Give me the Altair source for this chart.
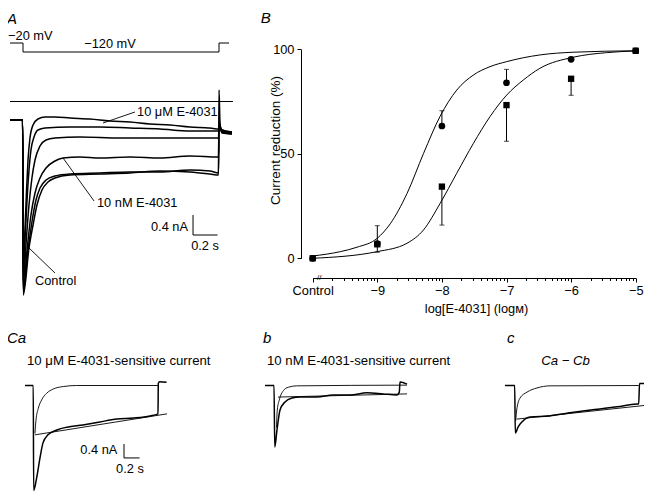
import altair as alt
import pandas as pd

FONT = "Liberation Sans"
FS = 12.8
W, H = 636, 485

# ================= Panel A : voltage protocol (s, mV) =================
A_VOLT_T = [-0.106, 0.0, 0.0, 1.6, 1.6, 1.682]
A_VOLT_MV = [-20, -20, -120, -120, -20, -20]

# ================= Panel A : current traces (s, nA) =================
A_T1_T = [-0.106, -0.003, 0.002, 0.016, 0.029, 0.041, 0.057, 0.082, 0.122, 0.180, 0.261, 0.384,
          0.547, 0.710, 0.873, 1.037, 1.200, 1.363, 1.527, 1.596, 1.600, 1.624, 1.706]
A_T1_I = [-0.37, -0.37, -3.37, -2.57, -1.77, -1.17, -0.73, -0.47, -0.35, -0.31, -0.31, -0.33,
          -0.35, -0.39, -0.41, -0.45, -0.47, -0.51, -0.53, -0.55, -0.47, -0.57, -0.61]
A_T2_T = [-0.106, -0.003, 0.002, 0.016, 0.033, 0.049, 0.065, 0.090, 0.122, 0.180, 0.384, 0.629,
          0.873, 1.118, 1.363, 1.596, 1.600, 1.624, 1.706]
A_T2_I = [-0.37, -0.37, -3.57, -2.77, -1.97, -1.37, -0.97, -0.71, -0.57, -0.53, -0.51, -0.51,
          -0.53, -0.55, -0.59, -0.59, -0.49, -0.59, -0.63]
A_T3_T = [-0.106, -0.003, 0.002, 0.024, 0.049, 0.073, 0.098, 0.139, 0.188, 0.261, 0.465, 0.792,
          1.118, 1.596, 1.600, 1.624, 1.706]
A_T3_I = [-0.37, -0.37, -3.67, -2.87, -2.07, -1.53, -1.17, -0.89, -0.77, -0.73, -0.71, -0.73,
          -0.73, -0.73, -0.51, -0.61, -0.65]
A_T4_T = [-0.106, -0.003, 0.002, 0.033, 0.065, 0.098, 0.139, 0.188, 0.261, 0.327, 0.465, 0.629,
          0.873, 1.118, 1.363, 1.596, 1.600, 1.624, 1.706]
A_T4_I = [-0.37, -0.37, -3.77, -2.97, -2.27, -1.83, -1.53, -1.33, -1.19, -1.13, -1.11, -1.13,
          -1.11, -1.13, -1.09, -1.11, -0.49, -0.59, -0.63]
A_T5_T = [-0.106, -0.003, 0.002, 0.041, 0.073, 0.106, 0.139, 0.188, 0.261, 0.384, 0.629, 0.873,
          1.118, 1.363, 1.527, 1.596, 1.600, 1.624, 1.706]
A_T5_I = [-0.37, -0.37, -3.81, -2.97, -2.41, -1.97, -1.73, -1.57, -1.49, -1.45, -1.43, -1.41,
          -1.41, -1.37, -1.39, -1.43, -0.47, -0.57, -0.61]
A_T6_T = [-0.106, -0.003, 0.002, 0.049, 0.082, 0.114, 0.155, 0.204, 0.261, 0.384, 0.629, 0.873,
          1.118, 1.363, 1.527, 1.596, 1.600, 1.608, 1.624, 1.706]
A_T6_I = [-0.37, -0.37, -3.87, -2.93, -2.47, -2.07, -1.77, -1.61, -1.53, -1.47, -1.45, -1.43,
          -1.39, -1.41, -1.45, -1.47, 0.23, -0.41, -0.63, -0.65]
A_ZERO_T = [-0.106, 1.714]

A_LABEL_TEXT = ["10 μM E-4031", "10 nM E-4031", "Control"]
A_LABEL_T = [0.931, 0.604, 0.098]
A_LABEL_I = [-0.21, -2.03, -3.59]
A_LEADER_T1 = [0.653, 0.327, 0.049]
A_LEADER_I1 = [-0.43, -1.13, -2.93]
A_LEADER_T2 = [0.914, 0.580, 0.261]
A_LEADER_I2 = [-0.21, -1.99, -3.43]
A_BAR_T = [1.388, 1.588]
A_BAR_I = [-2.27, -2.67]

# ================= Panel B : concentration-response =================
B_CONC = [-10, -9, -8, -7, -6, -5]
B_CIRCLE = [0.0, 7.0, 63.3, 84.0, 95.2, 99.3]
B_SQUARE = [0.0, 6.7, 34.3, 73.3, 85.9, 99.3]
B_CIRC_ERR_X = [-9, -8, -7]
B_CIRC_ERR_HI = [15.6, 70.6, 90.4]
B_SQ_ERR_X = [-9, -8, -7, -6]
B_SQ_ERR_LO = [2.9, 15.9, 56.0, 78.0]
B_FIT1_X = [-10, -9.571, -9.314, -9.0, -8.80, -8.54, -8.284, -8.027, -7.770, -7.512, -7.255,
            -6.997, -6.483, -5.968, -5.005]
B_FIT1_Y = [1.1, 3.2, 5.3, 9.6, 16.5, 31.0, 50.2, 68.0, 80.5, 87.7, 91.7, 94.1, 97.3, 98.6, 99.3]
B_FIT2_X = [-10, -9.0, -8.54, -8.284, -8.027, -7.770, -7.512, -7.255, -6.997, -6.740, -6.483,
            -5.968, -5.453, -5.005]
B_FIT2_Y = [0.0, 3.2, 7.2, 13.6, 26.3, 40.7, 55.0, 67.8, 78.1, 85.3, 90.9, 96.2, 98.4, 99.2]
B_MAJOR = [-10, -9, -8, -7, -6, -5]
B_MINOR_OFFSETS = [0.301, 0.477, 0.602, 0.699, 0.778, 0.845, 0.903, 0.954]

# ================= Panel C : sensitive currents (s, nA) =================
CA_T = [-0.109, -0.003, 0.002, 0.041, 0.084, 0.122, 0.186, 0.302, 0.431, 0.636, 0.855, 1.073,
        1.279, 1.497, 1.600, 1.604, 1.620, 1.710]
CA_I = [0, 0, -3.0, -2.63, -2.06, -1.64, -1.41, -1.27, -1.19, -1.13, -1.04, -0.96, -0.93, -0.87,
        -0.81, 0.06, 0.11, 0.09]
CA_FAST_T = [0.019, 0.032, 0.062, 0.105, 0.170, 0.254, 0.383, 0.555, 1.600]
CA_FAST_I = [-1.37, -0.99, -0.65, -0.41, -0.22, -0.10, -0.03, 0.0, 0.0]
CA_SLOW_T = [0.019, 1.716]
CA_SLOW_I = [-1.41, -0.81]

CB_T = [-0.122, -0.006, 0.003, 0.032, 0.071, 0.135, 0.225, 0.328, 0.546, 0.752, 0.970, 1.189,
        1.395, 1.575, 1.604, 1.613, 1.703]
CB_I = [0, 0, -1.76, -1.27, -0.70, -0.47, -0.36, -0.33, -0.33, -0.27, -0.27, -0.21, -0.24, -0.27,
        -0.19, 0.10, 0.04]
CB_FAST_T = [0.025, 0.036, 0.062, 0.113, 0.177, 0.285, 1.703]
CB_FAST_I = [-1.2, -0.70, -0.41, -0.15, -0.05, -0.01, 0.01]
CB_SLOW_T = [0.045, 1.703]
CB_SLOW_I = [-0.33, -0.24]

CC_T = [-0.129, -0.004, 0.004, 0.039, 0.090, 0.193, 0.450, 0.668, 0.874, 1.093, 1.311, 1.568,
        1.590, 1.600, 1.709]
CC_I = [0, 0, -1.36, -1.19, -1.04, -0.90, -0.87, -0.79, -0.73, -0.67, -0.61, -0.53, -0.53, 0.06,
        0.06]
CC_FAST_T = [0.010, 0.022, 0.064, 0.154, 0.283, 0.450, 1.590]
CC_FAST_I = [-1.0, -0.70, -0.36, -0.19, -0.07, -0.01, 0.0]
CC_SLOW_T = [0.022, 1.709]
CC_SLOW_I = [-0.96, -0.56]

CA_BAR_T = [1.163, 1.363]
CA_BAR_I = [-1.67, -2.07]


# ================= scales (panel placement) =================
def S(domain, rng):
    return alt.Scale(domain=domain, range=rng, zero=False, nice=False)


A_TS = S([0, 1.6], [15, 211])
A_IS = S([-4, 0], [293.5, 93.5])
A_VS = S([-120, -20], [44, 35])
B_XS = S([-10, -5], [304.7, 627.7])
B_YS = S([0, 100], [250.3, 41.3])
C_IS = S([-3, 0], [482.5, 377.5])
CA_TS = S([0, 1.6], [25.5, 150])
CB_TS = S([0, 1.6], [266.5, 391])
CC_TS = S([0, 1.6], [507, 631.5])


def enc_xy(xs, ys, xf="x", yf="y"):
    return dict(x=alt.X(f"{xf}:Q", scale=xs, axis=None), y=alt.Y(f"{yf}:Q", scale=ys, axis=None))


def line(xv, yv, xs, ys, width=1.0, interp="linear"):
    df = pd.DataFrame({"x": xv, "y": yv, "k": list(range(len(xv)))})
    return alt.Chart(df).mark_line(color="black", strokeWidth=width, interpolate=interp).encode(
        order=alt.Order("k:Q"), **enc_xy(xs, ys))


def rules(x1, y1, x2, y2, xs, ys, width=1.0):
    df = pd.DataFrame({"x": x1, "y": y1, "x2": x2, "y2": y2})
    return alt.Chart(df).mark_rule(color="black", strokeWidth=width).encode(
        x=alt.X("x:Q", scale=xs, axis=None), y=alt.Y("y:Q", scale=ys, axis=None),
        x2="x2:Q", y2="y2:Q")


def text(labels, xv, yv, xs, ys, align="left", baseline="middle", size=FS, style="normal", dy=0):
    df = pd.DataFrame({"x": xv, "y": yv, "s": labels})
    return alt.Chart(df).mark_text(font=FONT, fontSize=size, color="black", align=align,
                                   baseline=baseline, fontStyle=style, dy=dy).encode(
        text="s:N", **enc_xy(xs, ys))


layers = []

# ---- Panel A ----
layers.append(text(["A"], [-0.131], [1.79], A_TS, A_IS, size=15, style="italic",
                   baseline="top"))
layers.append(line(A_VOLT_T, A_VOLT_MV, A_TS, A_VS, 1.0))
layers.append(text(["−20 mV"], [-0.122], [-20], A_TS, A_VS, baseline="alphabetic", dy=-3))
layers.append(text(["−120 mV"], [0.71], [-120], A_TS, A_VS, align="center",
                   baseline="alphabetic", dy=-4.5))
layers.append(line(A_ZERO_T, [0, 0], A_TS, A_IS, 1.0))
for tt, ii in [(A_T1_T, A_T1_I), (A_T2_T, A_T2_I), (A_T3_T, A_T3_I), (A_T4_T, A_T4_I),
               (A_T5_T, A_T5_I), (A_T6_T, A_T6_I)]:
    layers.append(line(tt, ii, A_TS, A_IS, 1.5, "monotone"))
layers.append(rules(A_LEADER_T1, A_LEADER_I1, A_LEADER_T2, A_LEADER_I2, A_TS, A_IS, 0.9))
layers.append(text(A_LABEL_TEXT, A_LABEL_T, A_LABEL_I, A_TS, A_IS))
layers.append(rules([A_BAR_T[0], A_BAR_T[0]], [A_BAR_I[0], A_BAR_I[1]],
                    [A_BAR_T[0], A_BAR_T[1]], [A_BAR_I[1], A_BAR_I[1]], A_TS, A_IS, 1.0))
layers.append(text(["0.4 nA"], [1.347], [-2.51], A_TS, A_IS, align="right"))
layers.append(text(["0.2 s"], [1.486], [-2.89], A_TS, A_IS, align="center"))

# ---- Panel B ----
minor_vals = [d + o for d in [-10, -9, -8, -7, -6] for o in B_MINOR_OFFSETS]
x_axis = alt.Axis(
    values=B_MAJOR + minor_vals, orient="bottom", offset=-(H - 270), grid=False,
    domainColor="black", tickColor="black", domainWidth=1, tickWidth=1,
    tickSize={"condition": {"test": "datum.value % 1 == 0", "value": 4}, "value": 2.5},
    labelExpr="datum.value == -10 ? 'Control' : (datum.value % 1 == 0 ? '−' + abs(datum.value) : '')",
    labelFont=FONT, labelFontSize=FS, labelColor="black", labelPadding=2,
    labelOverlap=False, labelFlush=False,
    title="log[E-4031] (logм)", titleFont=FONT, titleFontSize=FS, titleFontWeight="normal",
    titleColor="black", titleX=468, titleY=30, titleAlign="center", titleBaseline="middle")
y_axis = alt.Axis(
    values=[0, 50, 100], orient="left", offset=-293, grid=False,
    domainColor="black", tickColor="black", domainWidth=1, tickWidth=1, tickSize=4,
    labelFont=FONT, labelFontSize=FS, labelColor="black", labelPadding=3,
    labelOverlap=False, labelFlush=False,
    title="Current reduction (%)", titleFont=FONT, titleFontSize=13.5, titleFontWeight="normal",
    titleColor="black", titleX=-26, titleY=132, titleAlign="center", titleBaseline="middle")

layers.append(text(["B"], [-10.805], [118.3], B_XS, B_YS, size=15, style="italic",
                   baseline="top"))
layers.append(line(B_FIT1_X, B_FIT1_Y, B_XS, B_YS, 1.0, "monotone"))
layers.append(line(B_FIT2_X, B_FIT2_Y, B_XS, B_YS, 1.0, "monotone"))
layers.append(rules(B_CIRC_ERR_X, [B_CIRCLE[B_CONC.index(v)] for v in B_CIRC_ERR_X],
                    B_CIRC_ERR_X, B_CIRC_ERR_HI, B_XS, B_YS, 1.0))
layers.append(rules(B_SQ_ERR_X, [B_SQUARE[B_CONC.index(v)] for v in B_SQ_ERR_X],
                    B_SQ_ERR_X, B_SQ_ERR_LO, B_XS, B_YS, 1.0))
cap_df = pd.DataFrame({"x": B_CIRC_ERR_X + B_SQ_ERR_X, "y": B_CIRC_ERR_HI + B_SQ_ERR_LO})
layers.append(alt.Chart(cap_df).mark_tick(color="black", orient="horizontal", size=5,
                                          thickness=1).encode(**enc_xy(B_XS, B_YS)))
sq_df = pd.DataFrame({"x": B_CONC, "y": B_SQUARE})
layers.append(alt.Chart(sq_df).mark_point(shape="square", filled=True, color="black", size=40,
                                          opacity=1).encode(**enc_xy(B_XS, B_YS)))
ci_df = pd.DataFrame({"x": B_CONC, "y": B_CIRCLE})
layers.append(alt.Chart(ci_df).mark_point(shape="circle", filled=True, color="black", size=45,
                                          opacity=1).encode(
    x=alt.X("x:Q", scale=B_XS, axis=x_axis), y=alt.Y("y:Q", scale=B_YS, axis=y_axis)))
layers.append(text(["//"], [-9.90], [-9.4], B_XS, B_YS, align="center", size=8))

# ---- Panel C ----
layers.append(text(["Ca"], [-0.341], [1.36], CA_TS, C_IS, size=15, style="italic"))
layers.append(text(["10 μM E-4031-sensitive current"], [-0.084], [0.70], CA_TS, C_IS, size=13.2))
layers.append(line(CA_T, CA_I, CA_TS, C_IS, 1.5, "monotone"))
layers.append(line(CA_FAST_T, CA_FAST_I, CA_TS, C_IS, 0.9, "monotone"))
layers.append(line(CA_SLOW_T, CA_SLOW_I, CA_TS, C_IS, 0.9))
layers.append(rules([CA_BAR_T[0], CA_BAR_T[0]], [CA_BAR_I[0], CA_BAR_I[1]],
                    [CA_BAR_T[0], CA_BAR_T[1]], [CA_BAR_I[1], CA_BAR_I[1]], CA_TS, C_IS, 1.0))
layers.append(text(["0.4 nA"], [1.077], [-1.84], CA_TS, C_IS, align="right"))
layers.append(text(["0.2 s"], [1.24], [-2.39], CA_TS, C_IS, align="center"))

layers.append(text(["b"], [-0.148], [1.36], CB_TS, C_IS, size=15, style="italic"))
layers.append(text(["10 nM E-4031-sensitive current"], [-0.096], [0.70], CB_TS, C_IS, size=13.2))
layers.append(line(CB_T, CB_I, CB_TS, C_IS, 1.5, "monotone"))
layers.append(line(CB_FAST_T, CB_FAST_I, CB_TS, C_IS, 0.9, "monotone"))
layers.append(line(CB_SLOW_T, CB_SLOW_I, CB_TS, C_IS, 0.9))

layers.append(text(["c"], [-0.103], [1.36], CC_TS, C_IS, size=15, style="italic"))
layers.append(text(["Ca − Cb"], [0.649], [0.70], CC_TS, C_IS, align="center", size=13.2,
                   style="italic"))
layers.append(line(CC_T, CC_I, CC_TS, C_IS, 1.5, "monotone"))
layers.append(line(CC_FAST_T, CC_FAST_I, CC_TS, C_IS, 0.9, "monotone"))
layers.append(line(CC_SLOW_T, CC_SLOW_I, CC_TS, C_IS, 0.9))

chart = alt.layer(*layers).resolve_scale(x="independent", y="independent").properties(
    width=W, height=H, padding=0, background="white",
    autosize=alt.AutoSizeParams(type="none"),
).configure_view(stroke=None)

chart.save("out.html", embed_options={"renderer": "svg", "actions": False})
